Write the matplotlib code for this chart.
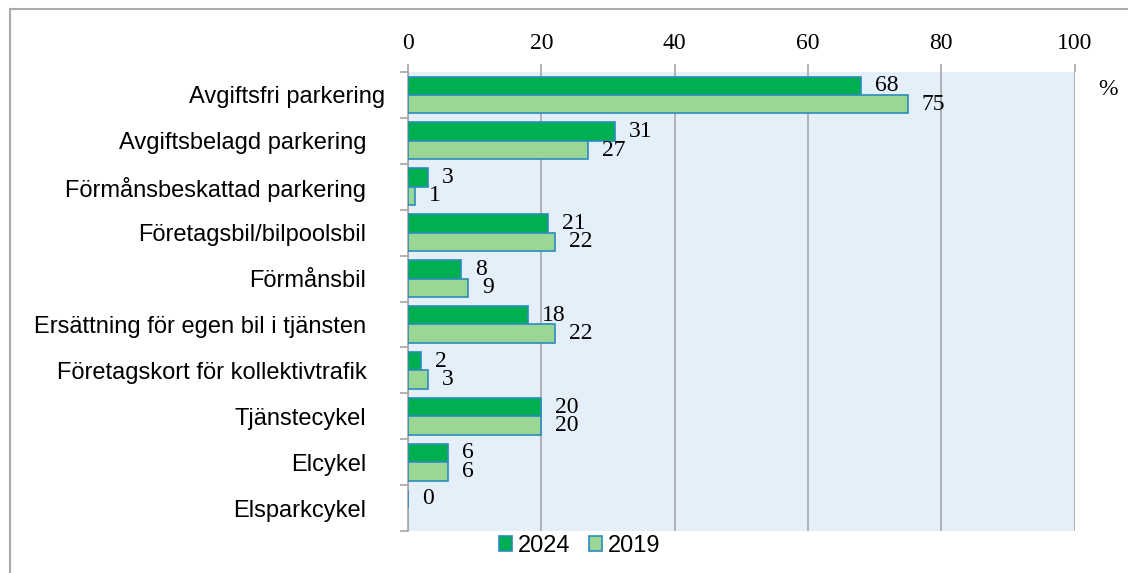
import numpy as np
import matplotlib.pyplot as plt
import matplotlib.transforms as mtrans
from matplotlib.lines import Line2D

categories = [
    "Avgiftsfri parkering",
    "Avgiftsbelagd parkering",
    "Förmånsbeskattad parkering",
    "Företagsbil/bilpoolsbil",
    "Förmånsbil",
    "Ersättning för egen bil i tjänsten",
    "Företagskort för kollektivtrafik",
    "Tjänstecykel",
    "Elcykel",
    "Elsparkcykel",
]
values_2024 = [68, 31, 3, 21, 8, 18, 2, 20, 6, 0]
values_2019 = [75, 27, 1, 22, 9, 22, 3, 20, 6, np.nan]
xticks = [0, 20, 40, 60, 80, 100]

dark_green = "#00B050"
light_green = "#9AD794"
edge = "#2B8CBE"
bg = "#E5EFFA"
grid_col = "#A6A6A6"

sans = "Liberation Sans"
serif = "Liberation Serif"
fs = 17

fig = plt.figure(figsize=(11.28, 5.73), dpi=100)
ax = fig.add_axes([408 / 1128, 1 - 531 / 573, 666.5 / 1128, 459 / 573])
ax.set_facecolor(bg)

n = len(categories)
y = np.arange(n)
h = 0.4
ax.barh(y - h / 2, values_2024, height=h, color=dark_green, edgecolor=edge,
        linewidth=1.2, label="2024", zorder=3)
ax.barh(y + h / 2, values_2019, height=h, color=light_green, edgecolor=edge,
        linewidth=1.2, label="2019", zorder=3)

off = mtrans.offset_copy(ax.transData, fig=fig, x=14, y=0, units="dots")
for i in range(n):
    for v, dy in ((values_2024[i], -h / 2), (values_2019[i], h / 2)):
        if np.isnan(v):
            continue
        ax.text(v, i + dy, f"{v:g}", transform=off, ha="left", va="center",
                fontsize=fs, family=serif, zorder=4)

ax.set_xlim(0, 100)
ax.set_ylim(n - 0.5, -0.5)
ax.set_xticks(xticks)
ax.xaxis.tick_top()
ax.tick_params(axis="x", top=True, bottom=False, length=6, width=1.2,
               color=grid_col, pad=7, labelsize=fs)
for lab in ax.get_xticklabels():
    lab.set_family(serif)
ax.grid(axis="x", color=grid_col, linewidth=1.2, zorder=0)

ax.set_yticks(y)
ax.set_yticklabels(categories, family=sans, fontsize=fs)
ax.set_yticks(np.arange(n + 1) - 0.5, minor=True)
ax.tick_params(axis="y", which="major", length=0, pad=30)
ax.tick_params(axis="y", which="minor", length=6, width=1.2, color=grid_col)
first = ax.get_yticklabels()[0]
first.set_transform(first.get_transform() +
                    mtrans.ScaledTranslation(19 / 100, 0, fig.dpi_scale_trans))

for s in ("top", "right", "bottom"):
    ax.spines[s].set_visible(False)
ax.spines["left"].set_color(grid_col)
ax.spines["left"].set_linewidth(1.2)

ax.text(1.05, 0.962, "%", transform=ax.transAxes, ha="center", va="center",
        fontsize=fs, family=serif)

leg = ax.legend(loc="upper center", bbox_to_anchor=(580 / 1128, 1 - 523 / 573),
                bbox_transform=fig.transFigure, ncol=2, frameon=False,
                prop={"family": sans, "size": fs}, handlelength=0.55,
                handleheight=0.55, handletextpad=0.25, columnspacing=0.8,
                borderpad=0)

# outer frame (left and top edges visible)
fx, fy = 10 / 1128, 1 - 9 / 573
fig.add_artist(Line2D([fx, fx], [0, fy], transform=fig.transFigure,
                      color="#AAAAAA", linewidth=1.5))
fig.add_artist(Line2D([fx, 1], [fy, fy], transform=fig.transFigure,
                      color="#AAAAAA", linewidth=1.5))

fig.savefig("out.png", dpi=100)
